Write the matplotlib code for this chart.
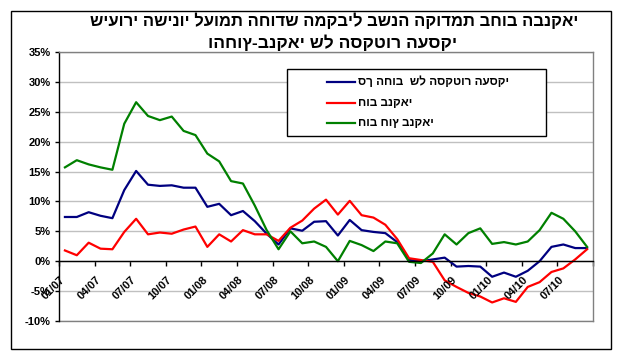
import matplotlib
matplotlib.use("Agg")
import matplotlib.pyplot as plt
import matplotlib.transforms as mtransforms
from matplotlib.patches import Rectangle
from matplotlib.lines import Line2D

# ---------------- data ----------------
tick_labels = ["01/07", "04/07", "07/07", "10/07", "01/08", "04/08", "07/08", "10/08",
               "01/09", "04/09", "07/09", "10/09", "01/10", "04/10", "07/10"]

total_debt = [7.4, 7.4, 8.2, 7.6, 7.2, 11.9, 15.1, 12.8, 12.6, 12.7, 12.3, 12.3, 9.1, 9.6, 7.7,
              8.4, 6.7, 4.6, 2.8, 5.5, 5.1, 6.6, 6.7, 4.3, 6.9, 5.2, 4.9, 4.7, 3.2, 0.2,
              0.0, 0.3, 0.6, -0.9, -0.8, -0.9, -2.6, -1.9, -2.6, -1.6, 0.0, 2.4, 2.8, 2.2, 2.2]

bank_debt = [1.8, 1.0, 3.1, 2.1, 2.0, 4.9, 7.1, 4.5, 4.8, 4.6, 5.3, 5.8, 2.4, 4.5, 3.3,
             5.2, 4.5, 4.5, 3.4, 5.6, 6.8, 8.8, 10.3, 7.8, 10.1, 7.7, 7.3, 6.1, 3.7, 0.5,
             0.2, -0.1, -3.2, -4.3, -5.3, -5.9, -6.9, -6.2, -6.8, -4.3, -3.5, -1.8, -1.2, 0.3, 2.0]

nonbank_debt = [15.7, 16.9, 16.2, 15.7, 15.3, 23.0, 26.6, 24.3, 23.6, 24.2, 21.8, 21.1, 18.0, 16.7, 13.4,
                13.0, 9.3, 5.2, 2.0, 5.0, 3.0, 3.3, 2.4, 0.0, 3.4, 2.7, 1.7, 3.3, 3.0, -0.1,
                -0.3, 1.3, 4.5, 2.8, 4.7, 5.5, 2.9, 3.2, 2.8, 3.3, 5.2, 8.1, 7.1, 5.0, 2.4]

series_names = ["סך החוב  של הסקטור העסקי", "חוב בנקאי", "חוב חוץ בנקאי"]
title_lines = ["שיעורי השינוי לעומת החודש המקביל בשנה הקודמת בחוב הבנקאי",
               "והחוץ-בנקאי של הסקטור העסקי"]
y_ticks = [-10, -5, 0, 5, 10, 15, 20, 25, 30, 35]

colors = ["#000080", "#FF0000", "#008000"]

FONT = ["Liberation Sans", "DejaVu Sans"]
plt.rcParams["font.family"] = FONT

W, H = 631, 361
fig = plt.figure(figsize=(W / 100, H / 100), dpi=100)
fig.patch.set_facecolor("white")


def fx(px):
    return px / W


def fy(py):
    return 1 - py / H


# outer chart frame
fig.patches.append(Rectangle((fx(10.5), fy(348.5)), fx(600), (338 / H), transform=fig.transFigure,
                             fill=False, edgecolor="black", lw=1.0))

ax = fig.add_axes([fx(59), fy(321), fx(593 - 59), (321 - 52) / H])
n = len(total_debt)
x = list(range(n))

ax.set_xlim(-0.5, n - 0.5)
ax.set_ylim(-10, 35)

ax.yaxis.grid(True, color="#c0c0c0", lw=1.0)
ax.set_axisbelow(True)

for vals, c in zip([total_debt, bank_debt, nonbank_debt], colors):
    ax.plot(x, vals, color=c, lw=1.6, solid_joinstyle="round", zorder=3)

# spines
for s in ["top", "right"]:
    ax.spines[s].set_color("#808080")
    ax.spines[s].set_linewidth(1.0)
ax.spines["left"].set_color("black")
ax.spines["left"].set_linewidth(1.0)
ax.spines["bottom"].set_position(("data", 0))
ax.spines["bottom"].set_color("black")
ax.spines["bottom"].set_linewidth(1.0)
ax.spines["bottom"].set_zorder(4)
ax.axhline(-10, color="#808080", lw=1.0, clip_on=False, zorder=2)

# y axis
ax.set_yticks(y_ticks)
ax.set_yticklabels([f"{v}%" for v in y_ticks], fontsize=8, fontweight="bold")
ax.tick_params(axis="y", direction="out", length=3, width=1, pad=3)

# x axis ticks (between categories, every 3 months)
bounds = [i - 0.5 for i in range(0, n + 1, 3)]
ax.set_xticks(bounds)
ax.set_xticklabels([])
ax.tick_params(axis="x", direction="out", length=3.5, width=1)

off = mtransforms.ScaledTranslation(1 / 100, -13 / 100, fig.dpi_scale_trans)
for k, lab in enumerate(tick_labels):
    ax.text(3 * k - 0.5, 0, lab, transform=ax.transData + off, rotation=45,
            rotation_mode="anchor", ha="right", va="top", fontsize=8, fontweight="bold")

# title
fig.text(fx(334), fy(21), title_lines[0], ha="center", va="center",
         fontsize=12, fontweight="bold")
fig.text(fx(333), fy(43), title_lines[1], ha="center", va="center",
         fontsize=12.5, fontweight="bold")

# legend
fig.patches.append(Rectangle((fx(287), fy(136)), fx(546 - 287), (136 - 69) / H,
                             transform=fig.transFigure, facecolor="white",
                             edgecolor="black", lw=1.0, zorder=5))
for name, c, yy in zip(series_names, colors, [82, 103, 123]):
    fig.lines.append(Line2D([fx(327), fx(355)], [fy(yy), fy(yy)], transform=fig.transFigure,
                            color=c, lw=1.6, zorder=6))
    fig.text(fx(358), fy(yy), name, ha="left", va="center", fontsize=8.5,
             fontweight="bold", zorder=6)

fig.savefig("out.png", dpi=100)
